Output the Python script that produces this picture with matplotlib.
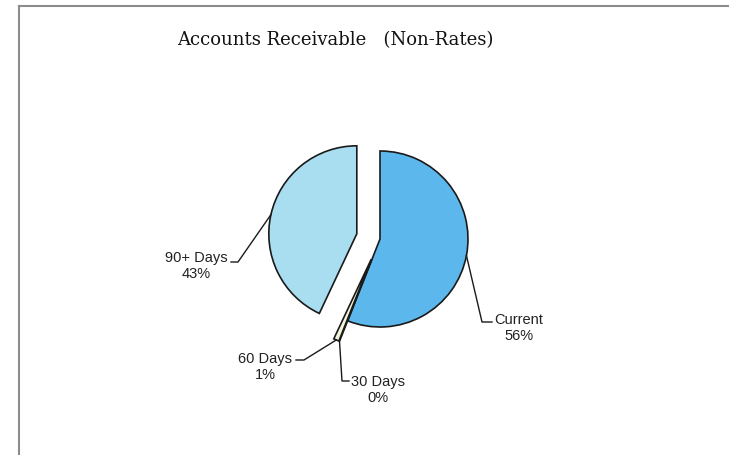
import numpy as np
import matplotlib
matplotlib.use("Agg")
import matplotlib.pyplot as plt

W, H = 729, 456

categories = ["Current", "30 Days", "60 Days", "90+ Days"]
shares = [56, 0, 1, 43]
colors = ["#5cb8ec", "#ffffff", "#f3f3dc", "#a8def0"]
explode = [0.0, 0.25, 0.25, 0.27]

# pie placement in pixel units (y measured from the top)
cx, cy, r = 380, 240, 88


def py(y):
    return H - y


fig = plt.figure(figsize=(W / 100, H / 100), dpi=100)
ax = fig.add_axes([0, 0, 1, 1])

# pie() offsets exploded wedges in data units, so scale by the radius
wedges, _ = ax.pie(
    shares,
    colors=colors,
    explode=[e * r for e in explode],
    startangle=90,
    counterclock=False,
    radius=r,
    center=(cx, py(cy)),
    frame=True,
    wedgeprops=dict(edgecolor="#1a1a1a", linewidth=1.2),
)

ax.set_xlim(0, W)
ax.set_ylim(0, H)
ax.set_aspect("equal")
ax.axis("off")

# leader lines: anchor on wedge at its mid angle, then knee and end
total = float(sum(shares))
label_layout = {
    "Current": dict(knee=(482, 323), end=(492, 323), text=(519, 328)),
    "30 Days": dict(knee=(342, 382), end=(349, 382), text=(378, 390)),
    "60 Days": dict(knee=(304, 361), end=(296, 361), text=(265, 367)),
    "90+ Days": dict(knee=(238, 263), end=(231, 263), text=(196, 266)),
}

start = 0.0
for name, val, ex in zip(categories, shares, explode):
    mid = (start + val / 2) / total * 2 * np.pi
    start += val
    dx, dy = np.sin(mid), np.cos(mid)
    ox, oy = cx + dx * ex * r, py(cy) + dy * ex * r
    ax_x, ax_y = ox + dx * r, oy + dy * r
    lay = label_layout[name]
    kx, ky = lay["knee"]
    ex_, ey = lay["end"]
    ax.plot([ax_x, kx, ex_], [ax_y, py(ky), py(ey)], color="#1a1a1a", lw=1.0)
    tx, ty = lay["text"]
    ax.text(tx, py(ty), f"{name}\n{val:.0f}%", ha="center", va="center",
            fontsize=10.5, family="Liberation Sans", linespacing=1.15,
            color="#222222")

ax.text(335, py(40), "Accounts Receivable   (Non-Rates)", ha="center",
        va="center", fontsize=13, family="DejaVu Serif", color="#111111")

# outer chart border (left and top edges)
ax.plot([19, 19], [0, py(7)], color="#8c8c8c", lw=1.5)
ax.plot([19, W], [py(7), py(7)], color="#8c8c8c", lw=1.5)

fig.savefig("out.png", dpi=100)
